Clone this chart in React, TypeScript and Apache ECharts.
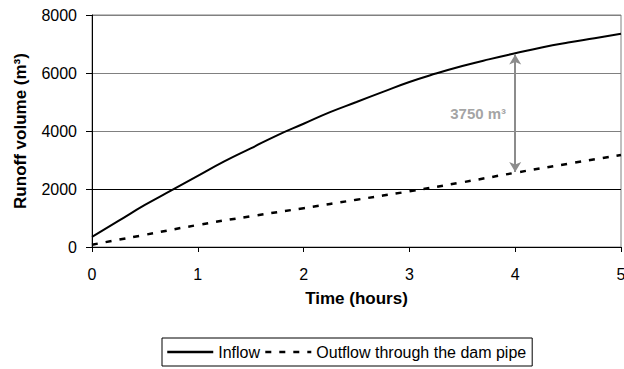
import React, { useEffect, useRef } from "react";
import * as echarts from "echarts";

const inflowTime = [0, 0.25, 0.5, 0.75, 1, 1.25, 1.5, 1.75, 2, 2.25, 2.5, 2.75, 3, 3.25, 3.5, 3.75, 4, 4.25, 4.5, 4.75, 5];
const inflowVolume = [350, 900, 1450, 1950, 2450, 2950, 3400, 3850, 4250, 4650, 5000, 5350, 5690, 5980, 6240, 6470, 6680, 6880, 7050, 7200, 7350];
const outflowTime = [0, 0.5, 1, 1.5, 2, 2.5, 3, 3.5, 4, 4.5, 5];
const outflowVolume = [80, 420, 760, 1060, 1340, 1630, 1920, 2230, 2560, 2870, 3170];
const arrowTime = 4;
const arrowTop = 6640;
const arrowBottom = 2590;
const annotationText = "3750 m³";
const annotationPos = [3.65, 4620];
const seriesNames = ["Inflow", "Outflow through the dam pipe"];

export default function App() {
  const ref = useRef<HTMLDivElement>(null);
  useEffect(() => {
    if (!ref.current) return;
    const chart = echarts.init(ref.current, null, { renderer: "svg" });
    const font = "Liberation Sans, Arial, sans-serif";
    chart.setOption({
      animation: false,
      textStyle: { fontFamily: font },
      grid: {
        left: 92,
        right: 3,
        top: 15,
        bottom: 122,
        show: true,
        borderColor: "#808080",
        borderWidth: 1,
        outerBoundsMode: "none",
        containLabel: false,
      },
      legend: {
        bottom: 3,
        left: 162,
        padding: [6, 6, 6, 4],
        itemGap: 4,
        itemWidth: 46,
        itemHeight: 14,
        borderColor: "#000",
        borderWidth: 1,
        itemStyle: { opacity: 0 },
        lineStyle: { width: 2.5 },
        textStyle: { fontSize: 16, color: "#000", fontFamily: font },
        data: seriesNames,
      },
      xAxis: {
        type: "value",
        min: 0,
        max: 5,
        interval: 1,
        name: "Time (hours)",
        nameLocation: "middle",
        nameGap: 43,
        nameTextStyle: { fontSize: 17, fontWeight: "bold", color: "#000", fontFamily: font },
        axisLine: { show: true, lineStyle: { color: "#000", width: 1 } },
        axisTick: { show: true, length: 5, lineStyle: { color: "#000" } },
        axisLabel: {
          fontSize: 16,
          color: "#000",
          margin: 19,
          fontFamily: font,
          alignMaxLabel: "center",
          alignMinLabel: "center",
        },
        splitLine: { show: false },
      },
      yAxis: {
        type: "value",
        min: 0,
        max: 8000,
        interval: 2000,
        name: "Runoff volume (m³)",
        nameLocation: "middle",
        nameGap: 63,
        nameTextStyle: { fontSize: 17, fontWeight: "bold", color: "#000", fontFamily: font },
        axisLine: { show: true, lineStyle: { color: "#000", width: 1 } },
        axisTick: { show: true, length: 6, lineStyle: { color: "#000" } },
        axisLabel: {
          fontSize: 16,
          color: "#000",
          margin: 15,
          fontFamily: font,
          formatter: (v: number) => String(v),
        },
        splitLine: {
          show: true,
          lineStyle: { color: ["#000", "#000", "#808080", "#808080", "#808080"], width: 1 },
        },
      },
      series: [
        {
          name: seriesNames[0],
          type: "line",
          data: inflowTime.map((t, i) => [t, inflowVolume[i]]),
          symbol: "none",
          smooth: true,
          lineStyle: { color: "#000", width: 2 },
          itemStyle: { color: "#000" },
          markLine: {
            silent: true,
            symbol: ["arrow", "arrow"],
            symbolSize: [9, 10],
            label: { show: false },
            lineStyle: { color: "#8c8c8c", width: 2, type: "solid" },
            data: [[{ coord: [arrowTime, arrowTop] }, { coord: [arrowTime, arrowBottom] }]],
          },
        },
        {
          name: seriesNames[1],
          type: "line",
          data: outflowTime.map((t, i) => [t, outflowVolume[i]]),
          symbol: "none",
          smooth: true,
          lineStyle: { color: "#000", width: 2.5, type: [6, 8] },
          itemStyle: { color: "#000" },
        },
        {
          name: "annotation",
          type: "scatter",
          data: [annotationPos],
          symbolSize: 0,
          silent: true,
          label: {
            show: true,
            position: "inside",
            formatter: annotationText,
            fontSize: 15,
            fontWeight: "bold",
            color: "#8c8c8c",
            fontFamily: font,
          },
        },
      ],
    });
    return () => chart.dispose();
  }, []);
  return <div ref={ref} style={{ width: 624, height: 369, position: "absolute", left: 0, top: 0 }} />;
}
